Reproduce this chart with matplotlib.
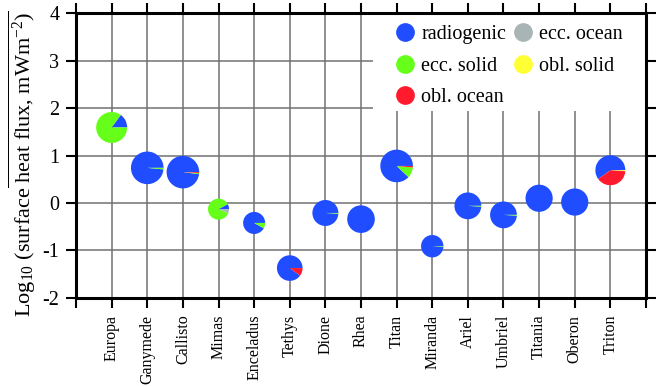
import matplotlib
matplotlib.use("Agg")
import matplotlib.pyplot as plt
from matplotlib.patches import Wedge, Rectangle
from matplotlib.lines import Line2D
from matplotlib.transforms import ScaledTranslation

plt.rcParams['font.family'] = ['Liberation Serif', 'DejaVu Serif']
plt.rcParams['mathtext.fontset'] = 'custom'
plt.rcParams['mathtext.rm'] = 'Liberation Serif'
plt.rcParams['mathtext.it'] = 'Liberation Serif:italic'
plt.rcParams['axes.unicode_minus'] = False

# =============================
# DATOS
# =============================
moons = ["Europa", "Ganymede", "Callisto", "Mimas", "Enceladus", "Tethys",
         "Dione", "Rhea", "Titan", "Miranda", "Ariel", "Umbriel",
         "Titania", "Oberon", "Triton"]

# log10 del flujo de calor superficial (mW m^-2)
log_flux = [1.59, 0.74, 0.65, -0.13, -0.42, -1.37, -0.21, -0.34,
            0.78, -0.91, -0.06, -0.25, 0.10, 0.02, 0.69]

# tamaño del pastel (pixeles de radio)
pie_radius = [15.5, 16.3, 16.3, 10.5, 11.0, 12.8, 13.0, 13.8,
              16.3, 11.2, 13.4, 13.4, 13.6, 13.6, 15.0]

# fracciones de cada fuente de calor
radiogenic = [0.15, 0.985, 0.98, 0.08, 0.92, 0.90, 0.99, 1.00,
              0.88, 0.99, 0.99, 0.99, 1.00, 1.00, 0.60]
ecc_solid = [0.85, 0.015, 0.01, 0.86, 0.08, 0.00, 0.01, 0.00,
             0.105, 0.01, 0.01, 0.01, 0.00, 0.00, 0.00]
obl_ocean = [0.00, 0.00, 0.01, 0.00, 0.00, 0.10, 0.00, 0.00,
             0.015, 0.00, 0.00, 0.00, 0.00, 0.00, 0.39]
ecc_ocean = [0.00, 0.00, 0.00, 0.06, 0.00, 0.00, 0.00, 0.00,
             0.00, 0.00, 0.00, 0.00, 0.00, 0.00, 0.00]
obl_solid = [0.00, 0.00, 0.00, 0.00, 0.00, 0.00, 0.00, 0.00,
             0.00, 0.00, 0.00, 0.00, 0.00, 0.00, 0.01]

sources = [
    ("radiogenic", radiogenic, "#1f4dff"),
    ("ecc. solid", ecc_solid, "#66ff1a"),
    ("obl. ocean", obl_ocean, "#ff1a2e"),
    ("ecc. ocean", ecc_ocean, "#a9b4b4"),
    ("obl. solid", obl_solid, "#ffff33"),
]

# =============================
# FIGURA
# =============================
fig = plt.figure(figsize=(6.71, 3.86), dpi=100)
ax = fig.add_axes([0.1133, 0.228, 0.8494, 0.7383])

ax.set_xlim(0, 16)
ax.set_ylim(-2, 4)
ax.set_xticks(range(0, 17))
ax.set_xticklabels([""] + moons + [""], rotation=90, fontsize=11.5)
ax.set_yticks(range(-2, 5))
ax.tick_params(axis="both", direction="out", length=7, width=1.5,
               top=True, right=True, labeltop=False, labelright=False)
ax.tick_params(axis="y", labelsize=14.5, pad=5)
ax.tick_params(axis="x", pad=5)

ax.grid(True, color="#727272", linewidth=1.1)
ax.set_axisbelow(True)
for s in ax.spines.values():
    s.set_linewidth(2.2)

ax.set_ylabel(r"Log$_{10}$ (surface$\overline{\mathrm{\ heat\ flux{,}\ mWm^{-2})}}$",
              fontsize=16)
ax.yaxis.set_label_coords(-0.066, 0.47)

# fondo blanco detrás de la leyenda (tapa la rejilla)
ax.add_patch(Rectangle((0.521, 0.656), 0.479, 0.344, transform=ax.transAxes,
                       facecolor="white", edgecolor="none", zorder=1))

# pasteles: cuñas en pixeles, centradas en (x, log_flux)
for i, (x, y) in enumerate(zip(range(1, 16), log_flux)):
    trans = fig.dpi_scale_trans + ScaledTranslation(x, y, ax.transData)
    r = pie_radius[i] / 100.0
    start = 0.0
    for name, frac, color in sources:
        f = frac[i]
        if f <= 0:
            continue
        w = Wedge((0, 0), r, start * 360, (start + f) * 360,
                  facecolor=color, edgecolor="none", transform=trans, zorder=3)
        ax.add_artist(w)
        start += f

handles = [Line2D([], [], linestyle="none", marker="o", markersize=13.5,
                  markerfacecolor=c, markeredgecolor="none", label=n)
           for n, _, c in sources]
leg = ax.legend(handles=handles, ncol=2, loc="upper left",
                bbox_to_anchor=(0.5596, 0.958), fontsize=14.5,
                frameon=False, borderaxespad=0, borderpad=0,
                handletextpad=0.3, columnspacing=0.35, labelspacing=0.62,
                handlelength=1.0)
leg.set_zorder(5)

plt.savefig("out.png", dpi=100)
